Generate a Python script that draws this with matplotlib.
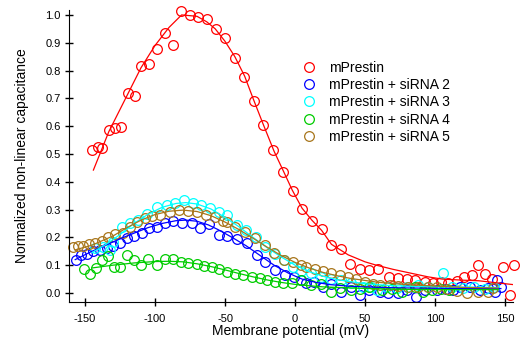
import matplotlib
matplotlib.use("Agg")
import matplotlib.pyplot as plt
from matplotlib.lines import Line2D

plt.rcParams['font.family'] = ['Liberation Sans', 'DejaVu Sans']

labels = ["mPrestin", "mPrestin + siRNA 2", "mPrestin + siRNA 3",
          "mPrestin + siRNA 4", "mPrestin + siRNA 5"]
colors = ["#ff0000", "#0000ff", "#00ffff", "#00cc00", "#a8761c"]

# measured points
red_x = [-144.8,-141,-137.6,-132.9,-128.6,-124.5,-119.3,-114.5,-109.8,-104,-98.6,-92.9,-87.4,-81.4,-75.2,-69.3,-62.9,-56.6,-49.8,-43.1,-36.2,-29.5,-22.9,-15.5,-8.4,-1.6,5.2,12.1,19,26,32.6,39.5,46.6,52.9,59.5,67.4,73.4,79.8,86,92.5,98.8,104,109,116,121,126.6,130.9,135.7,141,148.8,153.6,156.4]
red_y = [0.514,0.526,0.52,0.586,0.592,0.596,0.72,0.709,0.818,0.822,0.878,0.935,0.893,1.013,0.999,0.993,0.985,0.95,0.917,0.844,0.778,0.691,0.604,0.515,0.435,0.368,0.303,0.26,0.23,0.171,0.157,0.105,0.085,0.084,0.085,0.058,0.055,0.05,0.045,0.04,0.035,0.038,0.036,0.044,0.056,0.066,0.099,0.067,0.05,0.092,-0.009,0.1]

blue_x = [-156.4,-153.1,-148.8,-144,-139.3,-134.5,-130,-125,-120.2,-115,-109.5,-104,-98.8,-92.9,-86.9,-81,-73.8,-67.9,-61.5,-54.5,-48.6,-41.2,-34.3,-27.1,-21.2,-14,-6.9,-1,4.5,7.5,13.6,20,26,33.1,40,46.2,53,60.7,66.7,73.8,79.8,86.2,92.9,101.2,107.9,113,117.9,125,132.1,138.1,142.9,144,147.1]
blue_y = [0.119,0.137,0.14,0.152,0.155,0.16,0.17,0.181,0.197,0.205,0.217,0.235,0.236,0.25,0.258,0.253,0.25,0.232,0.247,0.207,0.205,0.195,0.18,0.137,0.113,0.083,0.065,0.056,0.047,0.035,0.041,0.02,0.031,0.005,0.02,-0.007,0.01,0.005,0.001,-0.001,0.011,-0.013,0.011,0.011,0.013,0.01,0.023,0.02,0.011,0.017,0.005,0.047,0.023]

cyan_x = [-142.9,-137.4,-132.1,-129.8,-123.8,-117.9,-111.9,-105.9,-98.8,-91.6,-85.7,-79.5,-73.2,-67.3,-60.7,-54,-48.7,-41.4,-35,-28,-21.2,-14.5,-8,-1.5,4.5,11.6,18.8,26,33.1,40.2,48.6,54.5,58.4,66,73,80,88.1,95,105.5,112,120,128,136,142]
cyan_y = [0.161,0.164,0.155,0.185,0.236,0.25,0.263,0.285,0.308,0.317,0.324,0.336,0.324,0.318,0.305,0.29,0.282,0.245,0.225,0.2,0.167,0.14,0.118,0.095,0.08,0.071,0.059,0.049,0.047,0.037,0.023,0.023,0.011,0.02,0.018,0.02,0.029,0.02,0.071,0.02,0.018,0.02,0.016,0.02]

green_x = [-150.7,-146.4,-142.1,-138.1,-133.6,-129.3,-125,-120.2,-115,-110.2,-104.8,-98.8,-92.9,-87.4,-81.7,-76.2,-70.2,-65,-59.5,-54.1,-48.8,-42.9,-36.9,-30.9,-25,-20.2,-14.3,-8.4,-2.4,4.5,11.6,18.8,26,32,40.2,46.2,53,61.9,69,76.2,85.7,91.7,97.6,104,110]
green_y = [0.086,0.068,0.089,0.119,0.133,0.092,0.092,0.137,0.119,0.101,0.121,0.101,0.121,0.121,0.113,0.107,0.104,0.097,0.092,0.086,0.077,0.068,0.065,0.059,0.053,0.047,0.038,0.037,0.035,0.047,0.029,0.032,0.005,0.017,0.011,0.013,0.02,0.011,0.013,0.005,0.023,0.005,0.011,0.015,0.012]

brown_x = [-158.4,-154.8,-151.2,-146.9,-142.9,-138.1,-133.4,-128.6,-123.1,-117.9,-113.1,-107.1,-102.4,-96.4,-89.3,-82.6,-76.2,-70.2,-63.4,-57.1,-51.6,-48.6,-42.6,-35.5,-28.3,-21.6,-15.2,-8.1,-1.6,4,8.1,14.1,20,26,32,37.9,43.8,49.8,55.7,60.7,67.9,73.8,81,88.1,95.2,101.2,108.4,115.5,122.6,130.9,138.1,141.7]
brown_y = [0.164,0.169,0.169,0.176,0.181,0.188,0.203,0.212,0.217,0.239,0.256,0.269,0.276,0.282,0.292,0.297,0.294,0.29,0.282,0.274,0.258,0.256,0.239,0.22,0.197,0.173,0.143,0.119,0.113,0.101,0.095,0.085,0.08,0.073,0.065,0.059,0.049,0.041,0.032,0.029,0.029,0.025,0.023,0.023,0.023,0.02,0.013,0.007,0.001,0.005,0.005,0.017]

# fitted curves
red_fx = [-144,-133,-120,-110,-100,-90,-81,-70,-63,-57,-50,-43,-36,-30,-23,-15,-8,-2,5,12,19,26,38,50,58,70,81,95,105,120,131,145,156]
red_fy = [0.442,0.58,0.71,0.81,0.89,0.955,1.0,0.995,0.975,0.95,0.905,0.85,0.78,0.70,0.61,0.51,0.435,0.37,0.305,0.262,0.225,0.175,0.137,0.112,0.1,0.085,0.073,0.058,0.05,0.046,0.044,0.036,0.03]
blue_fx = [-157,-145,-135,-125,-115,-105,-95,-85,-78,-70,-62,-55,-45,-35,-25,-15,-5,5,15,25,40,60,80,100,120,147]
blue_fy = [0.12,0.15,0.172,0.195,0.215,0.235,0.25,0.26,0.262,0.258,0.245,0.228,0.2,0.17,0.135,0.1,0.072,0.05,0.038,0.03,0.024,0.02,0.018,0.017,0.016,0.016]
cyan_fx = [-145,-135,-125,-115,-105,-95,-85,-78,-70,-60,-50,-40,-30,-20,-10,0,10,20,30,50,70,100,145]
cyan_fy = [0.145,0.175,0.21,0.25,0.283,0.308,0.322,0.325,0.32,0.302,0.272,0.238,0.2,0.163,0.13,0.1,0.077,0.06,0.048,0.033,0.026,0.022,0.02]
green_fx = [-145,-130,-115,-100,-90,-80,-70,-60,-50,-40,-30,-20,-10,0,10,20,40,60,80,100,120,145]
green_fy = [0.09,0.1,0.108,0.113,0.114,0.112,0.105,0.095,0.083,0.07,0.058,0.047,0.038,0.031,0.026,0.022,0.018,0.015,0.013,0.012,0.012,0.012]
brown_fx = [-157,-145,-130,-120,-110,-100,-90,-80,-70,-60,-50,-40,-30,-20,-10,0,10,20,30,40,60,80,100,120,145]
brown_fy = [0.155,0.172,0.205,0.235,0.262,0.282,0.294,0.298,0.293,0.278,0.255,0.228,0.197,0.165,0.135,0.11,0.09,0.074,0.062,0.052,0.038,0.03,0.025,0.02,0.018]

points = [(red_x, red_y), (blue_x, blue_y), (cyan_x, cyan_y), (green_x, green_y), (brown_x, brown_y)]
fits = [(red_fx, red_fy), (blue_fx, blue_fy), (cyan_fx, cyan_fy), (green_fx, green_fy), (brown_fx, brown_fy)]

xticks = [-150, -100, -50, 0, 50, 100, 150]
yticks = [0.0, 0.1, 0.2, 0.3, 0.4, 0.5, 0.6, 0.7, 0.8, 0.9, 1.0]

fig = plt.figure(figsize=(5.23, 3.42), dpi=100)
ax = fig.add_axes([0.132, 0.117, 0.849, 0.854])

for (px, py), c in zip(points, colors):
    ax.plot(px, py, linestyle='none', marker='o', markersize=7, markerfacecolor='none',
            markeredgecolor=c, markeredgewidth=0.9, clip_on=False)
for (fx, fy), c in zip(fits, colors):
    ax.plot(fx, fy, color=c, linewidth=0.9)

ax.set_xlim(-161.4, 155.7)
ax.set_ylim(-0.0324, 1.018)
ax.set_xticks(xticks)
ax.set_yticks(yticks)
ax.set_xticklabels([str(v) for v in xticks])
ax.set_yticklabels([f"{v:.1f}" for v in yticks])
ax.spines['top'].set_visible(False)
ax.spines['right'].set_visible(False)
ax.tick_params(direction='inout', length=6, width=1, labelsize=8, colors='black')
ax.tick_params(axis='x', pad=6)
ax.tick_params(axis='y', pad=3)
ax.set_xlabel("Membrane potential (mV)", fontsize=10, labelpad=0)
ax.set_ylabel("Normalized non-linear capacitance", fontsize=10, labelpad=12)

handles = [Line2D([], [], linestyle='none', marker='o', markersize=7, markerfacecolor='none',
                  markeredgecolor=c, markeredgewidth=0.9) for c in colors]
ax.legend(handles, labels, loc='upper left', bbox_to_anchor=(0.51, 0.85), frameon=False,
          fontsize=10, handlelength=1.0, handletextpad=0.9, labelspacing=0.24, borderpad=0)

fig.savefig("out.png", dpi=100)
